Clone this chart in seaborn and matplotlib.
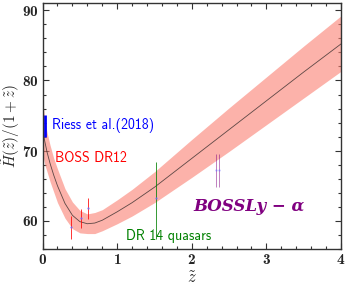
import numpy as np
import pandas as pd
import matplotlib
matplotlib.use("Agg")
import matplotlib.pyplot as plt
import seaborn as sns

# model curve H(z)/(1+z) with its band
z_grid = [0.0, 0.03, 0.06, 0.1, 0.15, 0.2, 0.3, 0.4, 0.5, 0.6, 0.7, 0.8,
          1.0, 1.2, 1.5, 2.0, 2.5, 3.0, 3.5, 4.0]
h_mid = [73.0, 71.3, 69.8, 68.2, 66.5, 65.0, 62.5, 60.8, 59.9, 59.6, 59.7, 60.1,
         61.3, 62.6, 64.8, 68.9, 73.0, 77.1, 81.2, 85.2]
h_up = [77.2, 74.5, 72.6, 70.8, 68.9, 67.4, 64.6, 62.7, 61.5, 61.0, 61.2, 61.6,
        63.0, 64.5, 67.0, 71.6, 76.1, 80.5, 84.9, 89.2]
h_lo = [69.5, 68.0, 67.0, 65.6, 64.1, 62.6, 60.4, 58.9, 58.3, 58.2, 58.2, 58.6,
        59.6, 60.7, 62.6, 66.2, 69.9, 73.7, 77.5, 81.3]

# data points
riess_z, riess_h, riess_err = [0.03], [73.5], [1.6]
boss_z = [0.38, 0.51, 0.61]
boss_h = [59.07, 60.35, 61.78]
boss_err = [1.6, 1.35, 1.5]
qso_z, qso_h = [1.52], [63.3]
qso_err_lo, qso_err_hi = [5.9], [5.1]
lya_z = [2.33, 2.36]
lya_h = [67.2, 67.2]
lya_err = [2.4, 2.4]

sns.set_theme(style="ticks")
plt.rcParams["mathtext.fontset"] = "cm"
plt.rcParams["axes.formatter.use_mathtext"] = True

fig = plt.figure(figsize=(3.49, 2.94), dpi=100)
ax = fig.add_axes([0.122, 0.153, 0.855, 0.836])

df = pd.DataFrame({"z": z_grid, "h": h_mid})
ax.fill_between(z_grid, h_lo, h_up, color="salmon", alpha=0.6, lw=0)
sns.lineplot(data=df, x="z", y="h", color="k", lw=0.6, alpha=0.7, ax=ax)

ax.errorbar(riess_z, riess_h, yerr=riess_err, fmt="none", ecolor="blue", elinewidth=2)
ax.errorbar(boss_z, boss_h, yerr=boss_err, fmt="o", ms=0.6, color="#6a6aff",
            ecolor="red", elinewidth=0.7, alpha=0.8)
ax.errorbar(qso_z, qso_h, yerr=[qso_err_lo, qso_err_hi], fmt="o", ms=0.6,
            color="#6a6aff", ecolor="green", elinewidth=0.7, alpha=0.8)
ax.errorbar(lya_z, lya_h, yerr=lya_err, fmt="o", ms=0.6, color="#6a6aff",
            ecolor="purple", elinewidth=0.7, alpha=0.5)

ax.text(0.127, 73.6, "Riess et al.(2018)", color="blue", fontsize=10,
        family="cmss10", va="center", ha="left")
ax.text(0.168, 68.9, "BOSS DR12", color="red", fontsize=10,
        family="cmss10", va="center", ha="left")
ax.text(1.12, 57.9, "DR 14 quasars", color="green", fontsize=10,
        family="cmss10", va="center", ha="left")
ax.text(2.02, 62.0, "BOSSLy \u2212 \u03b1", color="purple", fontsize=12,
        family="DejaVu Serif", weight="bold", style="italic", va="center", ha="left")

ax.set_xlim(0, 4)
ax.set_ylim(56, 91)
ax.set_xticks([0, 1, 2, 3, 4])
ax.set_yticks([60, 70, 80, 90])
ax.set_xticks(np.arange(0, 4.01, 0.2), minor=True)
ax.set_yticks(np.arange(56, 91, 2), minor=True)
ax.tick_params(which="both", direction="in", top=True, right=True, width=0.8,
               color="#333333")
ax.tick_params(which="major", length=4, labelsize=11, pad=3)
ax.tick_params(which="minor", length=2)
for lab in ax.get_xticklabels() + ax.get_yticklabels():
    lab.set_family("cmb10")
for s in ax.spines.values():
    s.set_linewidth(1.0)
    s.set_color("#333333")

ax.set_xlabel(r"$\tilde{z}$", fontsize=12, labelpad=1)
ax.set_ylabel(r"$\tilde{H}(\tilde{z})/(1+\tilde{z})$", fontsize=11, labelpad=0)

fig.savefig("out.png", dpi=100)
